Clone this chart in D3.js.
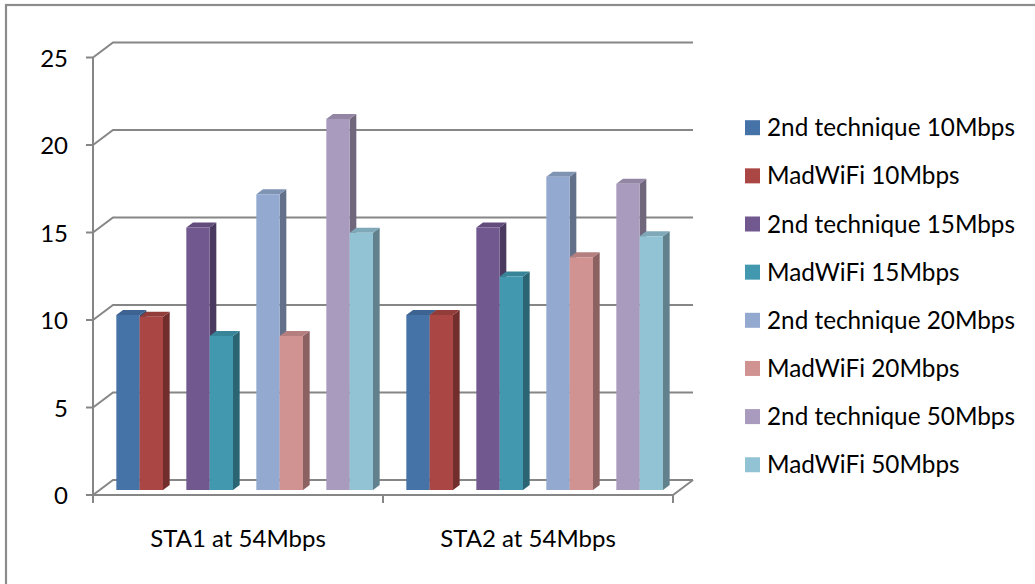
<!DOCTYPE html>
<html>
<head>
<meta charset="utf-8">
<script src="https://cdn.jsdelivr.net/npm/d3@7"></script>
<style>
  html, body { margin: 0; padding: 0; background: #fff; }
  svg { display: block; }
  text { font-family: Lato, "Open Sans", sans-serif; fill: #000; }
</style>
</head>
<body>
<svg id="chart" width="1035" height="584"></svg>
<script>
// Throughput per station, grouped by offered load
const categories = ["STA1 at 54Mbps", "STA2 at 54Mbps"];
const seriesNames = [
  "2nd technique 10Mbps", "MadWiFi 10Mbps",
  "2nd technique 15Mbps", "MadWiFi 15Mbps",
  "2nd technique 20Mbps", "MadWiFi 20Mbps",
  "2nd technique 50Mbps", "MadWiFi 50Mbps"
];
const loads = ["10Mbps", "15Mbps", "20Mbps", "50Mbps"];
const techniques = ["2nd technique", "MadWiFi"];

const tech2nd10 = [10, 10];
const madwifi10 = [9.9, 10];
const tech2nd15 = [15, 15];
const madwifi15 = [8.8, 12.2];
const tech2nd20 = [16.9, 17.9];
const madwifi20 = [8.8, 13.3];
const tech2nd50 = [21.2, 17.5];
const madwifi50 = [14.7, 14.5];

const yTicks = [0, 5, 10, 15, 20, 25];
const colors = ["#4572A7", "#AA4643", "#71588F", "#4198AF",
                "#93A9CF", "#D19392", "#A99BBD", "#92C3D4"];

const seriesValues = [tech2nd10, madwifi10, tech2nd15, madwifi15,
                      tech2nd20, madwifi20, tech2nd50, madwifi50];

const svg = d3.select("#chart");

// chart area frame
svg.append("rect")
  .attr("x", 6).attr("y", 5).attr("width", 1060).attr("height", 620)
  .attr("fill", "#fff").attr("stroke", "#8c8c8c").attr("stroke-width", 2.2);

// 3D projection: depth offset of the back wall
const DX = 20, DY = 15;
const plotLeft = 93, plotRight = 673, plotBottom = 495, plotTop = 57.5;

const y = d3.scaleLinear().domain([0, 25]).range([plotBottom, plotTop]);
const x0 = d3.scaleBand().domain(categories).range([plotLeft, plotRight]).padding(0);
const xGroup = d3.scaleBand().domain(loads).range([0, x0.bandwidth()])
  .paddingInner(1 / 3).paddingOuter(0.238);
const xTech = d3.scaleBand().domain(techniques).range([0, xGroup.bandwidth()]).padding(0);

const gridColor = "#868686";
const grid = svg.append("g").attr("stroke", gridColor).attr("stroke-width", 2).attr("fill", "none");

// back wall gridlines and side wall diagonals
yTicks.forEach(t => {
  const yy = y(t);
  grid.append("path")
    .attr("d", `M${plotLeft},${yy}L${plotLeft + DX},${yy - DY}L${plotRight + DX},${yy - DY}`);
});

// floor front edge and right diagonal
grid.append("path").attr("d", `M${plotLeft},${plotBottom}L${plotRight},${plotBottom}L${plotRight + DX},${plotBottom - DY}`);

// value axis line and ticks
grid.append("line").attr("x1", plotLeft).attr("x2", plotLeft).attr("y1", y(25)).attr("y2", plotBottom);
yTicks.forEach(t => {
  grid.append("line").attr("x1", plotLeft - 7).attr("x2", plotLeft).attr("y1", y(t)).attr("y2", y(t));
});
// category axis ticks
[plotLeft, plotLeft + x0.bandwidth(), plotRight].forEach(px => {
  grid.append("line").attr("x1", px).attr("x2", px).attr("y1", plotBottom).attr("y2", plotBottom + 8);
});

// value axis labels
svg.append("g").selectAll("text").data(yTicks).join("text")
  .attr("x", 68).attr("y", d => y(d) + 9)
  .attr("text-anchor", "end")
  .attr("font-size", 24)
  .text(d => d);

// category labels
svg.append("g").selectAll("text").data(categories).join("text")
  .attr("x", d => x0(d) + x0.bandwidth() / 2)
  .attr("y", 547)
  .attr("text-anchor", "middle")
  .attr("font-size", 24)
  .text(d => d);

// bars: front face sits one third into the floor depth, one third deep
const fdx = DX / 3, fdy = DY / 3;
const bdx = DX / 3, bdy = DY / 3;
const bars = svg.append("g");

categories.forEach((cat, ci) => {
  seriesNames.forEach((name, si) => {
    const v = seriesValues[si][ci];
    const load = loads[Math.floor(si / 2)];
    const tech = techniques[si % 2];
    const w = xTech.bandwidth();
    const bx = x0(cat) + xGroup(load) + xTech(tech) + fdx;
    const by0 = y(0) - fdy;
    const by1 = y(v) - fdy;
    const base = d3.color(colors[si]);
    const side = base.darker(1.15);
    const topC = base.darker(0.4);
    const g = bars.append("g");
    // right side face
    g.append("path")
      .attr("d", `M${bx + w},${by0}L${bx + w + bdx},${by0 - bdy}L${bx + w + bdx},${by1 - bdy}L${bx + w},${by1}Z`)
      .attr("fill", side);
    // top face
    g.append("path")
      .attr("d", `M${bx},${by1}L${bx + bdx},${by1 - bdy}L${bx + w + bdx},${by1 - bdy}L${bx + w},${by1}Z`)
      .attr("fill", topC);
    // front face
    g.append("rect")
      .attr("x", bx).attr("y", by1).attr("width", w).attr("height", by0 - by1)
      .attr("fill", base);
  });
});

// legend
const legend = svg.append("g");
seriesNames.forEach((name, i) => {
  const cy = 127.7 + i * 48.15;
  legend.append("rect")
    .attr("x", 745).attr("y", cy - 7.5).attr("width", 15).attr("height", 15)
    .attr("fill", colors[i]);
  legend.append("text")
    .attr("x", 767).attr("y", cy + 8.5)
    .attr("font-size", 24.3)
    .text(name);
});
</script>
</body>
</html>
